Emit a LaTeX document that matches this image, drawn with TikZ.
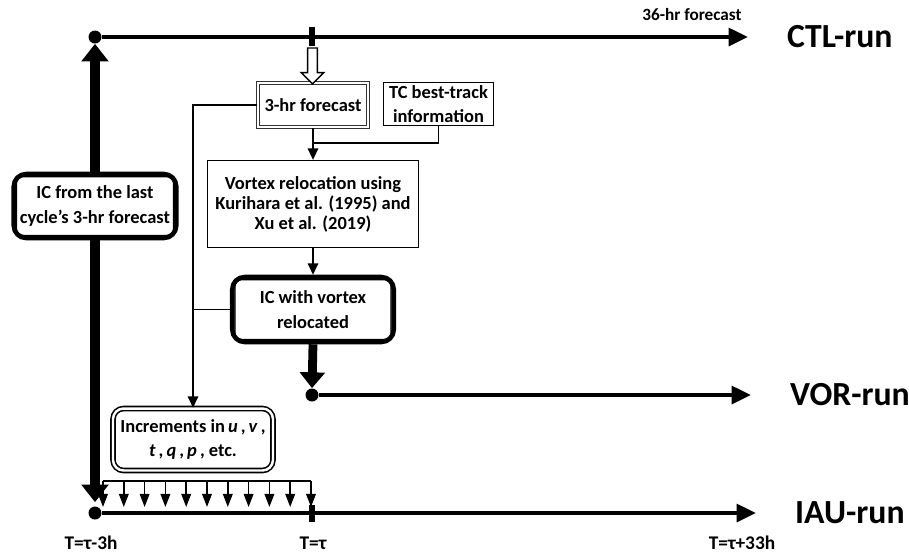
\documentclass[tikz,border=0pt]{standalone}
\usepackage{fontspec}
\setmainfont{Carlito}
\usetikzlibrary{arrows.meta}
\usetikzlibrary{positioning}
\usetikzlibrary{shapes.arrows}
\usetikzlibrary{calc}
\tikzset {
  run line/.style = {
    draw = black,
    line width = 2.3pt,
    -{Triangle[length = 11pt, width = 10pt]}
  },
  run dot/.style = {
    circle,
    fill = black,
    minimum size = 0.26cm,
    inner sep = 0
  },
  run label/.style = {
    font = \fontsize{19.2}{21}\selectfont\bfseries
  },
  time label/.style = {
    font = \fontsize{11}{13}\selectfont\bfseries
  },
  % short bar where T = tau crosses a run line
  time tick/.style = {
    draw = black,
    line width = 3pt
  }
}
\tikzset {
  box text/.style = {
    font = \fontsize{10.5}{14}\selectfont\bfseries,
    align = center,
    inner sep = 0
  },
  plain box/.style = {
    box text,
    draw = black,
    line width = 0.8pt
  },
  fc box/.style = {
    box text,
    draw = black!80,
    double,
    line width = 0.6pt,
    double distance = 1.3pt
  },
  % initial condition box: fat frame, thin one inside
  ic box/.style = {
    box text,
    draw = black,
    line width = 2.6pt,
    rounded corners = 7pt
  },
  ic inner/.style = {
    draw = black,
    line width = 0.7pt,
    rounded corners = 4pt
  },
  incr box/.style = {
    box text,
    draw = black,
    double,
    line width = 0.9pt,
    double distance = 1.4pt,
    rounded corners = 6pt
  },
  thin arr/.style = {
    draw = black,
    line width = 0.8pt,
    -{Triangle[length = 6.5pt, width = 6pt]}
  },
  thin line/.style = {
    draw = black,
    line width = 0.8pt
  },
  fat arr/.style = {
    draw = black,
    line width = 6pt,
    -{Triangle[length = 10pt, width = 15pt]}
  },
  comb arr/.style = {
    draw = black,
    line width = 1pt,
    -{Triangle[length = 7.5pt, width = 5.5pt]}
  },
  hollow arr/.style = {
    single arrow,
    draw = black,
    fill = white,
    line width = 0.8pt,
    shape border rotate = 270,
    minimum height = 0.72cm,
    inner sep = 2.4pt,
    single arrow head extend = 0.13cm
  }
}

\begin{document}
\begin{tikzpicture}[x = 0.02cm, y = -0.02cm]
  \useasboundingbox (0,0) rectangle (909,556);

  % the three runs
  \node[run dot] (ctl-start) at (95,37) {};
  \node[run dot] (vor-start) at (312,395) {};
  \node[run dot] (iau-start) at (95,513) {};
  \coordinate (ctl-end) at (748,37);
  \coordinate (vor-end) at (751,395);
  \coordinate (iau-end) at (756,513);
  \coordinate (tau-ctl) at (312,37);
  \coordinate (tau-iau) at (312,513);

  \draw[run line] (ctl-start) -- (ctl-end);
  \draw[run line] (vor-start) -- (vor-end);
  \draw[run line] (iau-start) -- (iau-end);
  \draw[time tick] ($(tau-ctl)+(0,-10)$) -- ($(tau-ctl)+(0,9)$);
  \draw[time tick] ($(tau-iau)+(0,-8)$) -- ($(tau-iau)+(0,9)$);

  \node[run label, right=0.66cm of ctl-end] (ctl-lbl) {CTL-run};
  \node[run label, right=0.66cm of vor-end] (vor-lbl) {VOR-run};
  \node[run label, right=0.66cm of iau-end] (iau-lbl) {IAU-run};
  \node[time label, font = \fontsize{9.8}{11}\selectfont\bfseries]
    (fc36) at (692,15) {36-hr forecast};
  \node[time label] (t-start) at (91,543) {T=τ-3h};
  \node[time label] (t-tau) at (313,543) {T=τ};
  \node[time label] (t-end) at (742,543) {T=τ+33h};

  % boxes
  \node[fc box, minimum width = 2.2cm, minimum height = 0.88cm]
    (fc3) at (313,105) {3-hr forecast};
  \node[plain box, minimum width = 2.2cm, minimum height = 0.86cm]
    (tcbt) at (438.5,104) {TC best-track\\information};
  \node[plain box, minimum width = 4.22cm, minimum height = 1.74cm,
    font = \fontsize{10.5}{11.4}\selectfont\bfseries]
    (vrel) at (313,204) {Vortex relocation using\\Kurihara et al. (1995) and\\Xu et al. (2019)};
  \node[ic box, minimum width = 3.23cm, minimum height = 1.3cm]
    (icvor) at (313,309.5) {IC with vortex\\relocated};
  \draw[ic inner] ([shift={(2.8pt,2.8pt)}]icvor.south west)
    rectangle ([shift={(-2.8pt,-2.8pt)}]icvor.north east);
  \node[ic box, minimum width = 3.25cm, minimum height = 1.28cm]
    (iclast) at (95,206) {IC from the last\\cycle’s 3-hr forecast};
  \draw[ic inner] ([shift={(2.8pt,2.8pt)}]iclast.south west)
    rectangle ([shift={(-2.8pt,-2.8pt)}]iclast.north east);
  \node[incr box, minimum width = 3.2cm, minimum height = 1.24cm]
    (incr) at (193,439.5)
    {Increments in\,\textit{u}\,,\,\textit{v}\,,\\\textit{t}\,,\,\textit{q}\,,\,\textit{p}\,, etc.};

  % connectors
  \node[hollow arr] (pull) at (312.5,63.5) {};
  \coordinate (join) at (312,143);
  \draw[thin arr] (fc3) -- (vrel);
  \draw[thin line] (tcbt.south) |- (join);
  \draw[thin arr] (vrel) -- (icvor);
  \draw[thin arr] (fc3.west) -| (incr.north);
  \draw[thin line] (icvor.west) -- (icvor.west -| incr.north);
  \draw[fat arr] (iclast.north) -- (ctl-start.south);
  \draw[fat arr] (iclast.south) -- ($(iau-start.north)+(0,-4)$);
  \draw[fat arr, line width = 5pt, -{Triangle[length = 9pt, width = 14pt]}]
    (icvor.south) -- (vor-start.north);

  % increments added step by step
  \coordinate (comb-l) at (103,481);
  \coordinate (comb-r) at (311,481);
  \draw[line width = 1pt] (comb-l) -- (comb-r);
  \foreach \i in {0,...,10}
    \draw[comb arr] ($(comb-l)!\i/10!(comb-r)$) -- ++(0,26);
\end{tikzpicture}
\end{document}
